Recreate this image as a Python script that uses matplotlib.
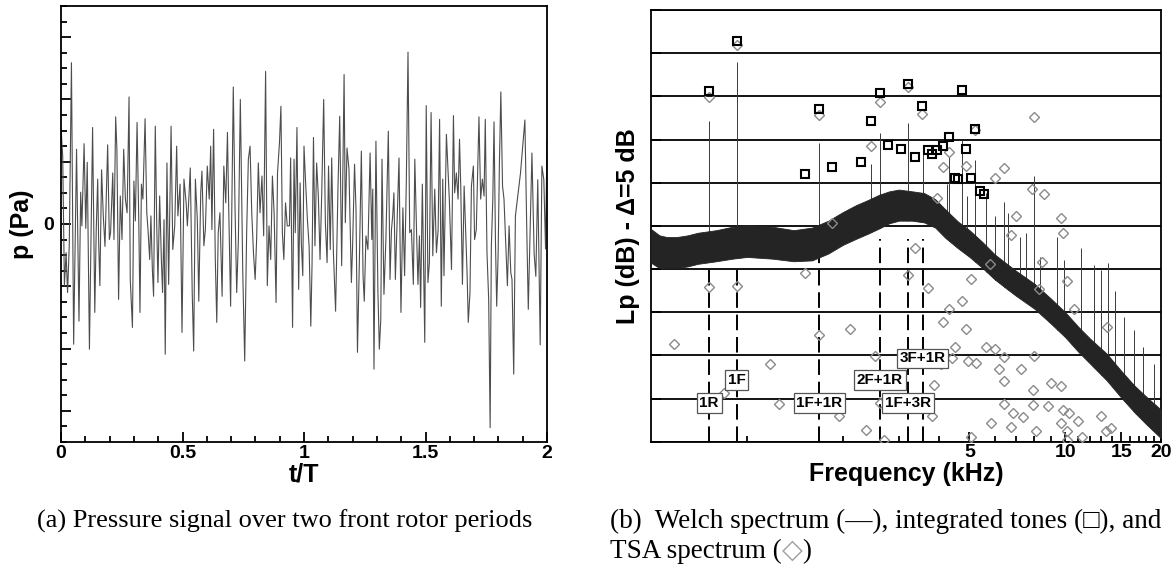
import numpy as np
import matplotlib
matplotlib.use('Agg')
import matplotlib.pyplot as plt
from matplotlib.ticker import FixedLocator, FixedFormatter, NullFormatter, MultipleLocator

# (a) pressure signal as (t/T, p) turning points
# p is in units of one major y tick
signal_pts = [
    (0.000, 1.55), (0.007, 1.09), (0.014, -0.99), (0.021, -0.46), (0.027, -1.10), (0.034, -0.35),
    (0.043, 2.59), (0.052, -1.93), (0.064, 1.20), (0.074, -1.56), (0.081, 0.51), (0.086, -0.03),
    (0.095, 1.29), (0.102, -0.07), (0.108, 0.99), (0.117, -2.01), (0.130, 1.55), (0.139, -1.42),
    (0.145, -0.09), (0.151, 0.72), (0.155, -0.30), (0.160, -0.99), (0.167, 0.87), (0.174, 0.13),
    (0.181, -0.36), (0.192, 1.27), (0.199, -0.25), (0.204, -0.14), (0.213, 0.82), (0.218, -0.25),
    (0.225, 1.72), (0.230, 1.20), (0.237, -1.21), (0.244, 0.45), (0.251, -0.25), (0.258, 1.20),
    (0.265, 0.40), (0.272, 0.18), (0.280, 2.04), (0.285, -0.89), (0.294, -1.66), (0.300, 0.69),
    (0.306, 0.05), (0.313, 1.63), (0.320, 0.07), (0.325, -1.42), (0.331, 0.64), (0.337, 0.40),
    (0.346, 1.69), (0.353, 0.18), (0.358, -0.09), (0.365, -0.57), (0.370, 0.13), (0.376, -0.73),
    (0.381, -1.16), (0.388, 1.57), (0.394, -0.03), (0.399, -0.94), (0.406, 0.45), (0.413, -0.57),
    (0.418, -1.10), (0.424, 0.07), (0.429, -2.09), (0.436, 0.98), (0.443, -0.97), (0.453, 1.57),
    (0.460, -0.41), (0.468, -0.03), (0.476, 1.25), (0.481, 0.13), (0.490, 0.64), (0.498, -1.74),
    (0.506, 0.72), (0.515, 0.34), (0.520, -0.03), (0.526, 0.40), (0.532, 0.90), (0.540, -1.10),
    (0.546, -2.04), (0.553, 0.72), (0.561, 0.07), (0.567, -1.24), (0.575, 0.50), (0.580, 0.85),
    (0.588, -0.35), (0.594, -0.09), (0.602, 0.93), (0.610, 0.40), (0.616, 1.25), (0.621, -0.09),
    (0.628, 1.52), (0.635, -0.57), (0.641, -1.58), (0.647, -0.14), (0.654, 0.18), (0.663, -1.16),
    (0.670, 0.93), (0.678, 0.34), (0.685, 1.47), (0.690, 0.29), (0.698, -1.32), (0.709, 2.20),
    (0.716, 0.29), (0.723, -1.10), (0.730, -0.25), (0.738, 2.00), (0.748, -0.78), (0.756, -2.20),
    (0.764, -0.14), (0.771, 1.04), (0.778, 1.25), (0.785, 0.18), (0.792, -0.46), (0.799, -0.89),
    (0.805, -0.25), (0.812, 0.98), (0.819, 0.18), (0.827, 0.77), (0.834, -0.19), (0.842, 2.45),
    (0.849, -0.99), (0.856, -0.03), (0.863, -0.57), (0.870, 0.77), (0.877, 0.18), (0.885, -1.26),
    (0.891, 0.82), (0.899, 1.30), (0.905, 1.89), (0.911, -0.14), (0.917, -0.57), (0.924, 0.34),
    (0.931, -0.03), (0.940, -0.03), (0.945, 1.06), (0.953, -1.66), (0.959, 1.04), (0.964, -0.14),
    (0.971, 1.55), (0.978, -1.05), (0.984, 0.66), (0.989, -0.30), (0.995, -0.83), (1.000, 1.25),
    (1.006, 0.72), (1.014, 0.07), (1.021, -0.35), (1.028, -1.64), (1.033, -0.67), (1.039, 1.39),
    (1.045, -0.35), (1.052, 0.98), (1.059, 0.45), (1.066, -0.57), (1.073, 0.50), (1.081, 2.00),
    (1.088, 0.02), (1.095, -0.62), (1.101, 0.93), (1.108, -0.41), (1.114, 1.06), (1.121, -0.46),
    (1.130, -1.40), (1.140, 0.61), (1.147, 1.73), (1.155, -0.67), (1.165, 2.40), (1.170, 0.02),
    (1.177, 1.22), (1.185, 0.88), (1.195, -0.94), (1.200, -0.35), (1.208, 0.96), (1.214, 0.24),
    (1.220, -2.06), (1.228, -0.57), (1.236, 1.17), (1.243, -0.83), (1.248, -1.24), (1.255, -0.19),
    (1.263, -0.41), (1.272, 1.14), (1.279, -0.25), (1.283, 0.56), (1.288, -2.33), (1.296, 1.33),
    (1.304, -1.05), (1.310, -2.01), (1.316, -1.53), (1.321, 1.04), (1.329, -1.13), (1.337, -0.25),
    (1.347, 1.49), (1.354, -0.89), (1.360, -0.09), (1.365, 0.13), (1.370, 0.50), (1.376, -0.89),
    (1.384, 0.16), (1.391, 1.06), (1.399, -1.42), (1.407, 0.26), (1.414, -0.83), (1.421, 0.66),
    (1.428, 2.76), (1.435, -0.14), (1.442, -0.09), (1.450, -0.97), (1.456, 1.04), (1.464, -0.25),
    (1.469, -0.97), (1.475, -0.19), (1.480, -1.34), (1.487, 0.64), (1.497, -1.90), (1.503, 1.90),
    (1.510, -0.94), (1.516, -0.62), (1.523, 1.79), (1.530, -0.51), (1.538, 0.56), (1.545, -0.46),
    (1.552, -0.09), (1.558, 1.68), (1.565, -1.32), (1.571, 0.72), (1.576, -0.83), (1.586, 1.44),
    (1.593, 0.82), (1.598, 0.40), (1.607, -0.73), (1.615, 1.74), (1.620, 0.50), (1.627, 0.82),
    (1.634, 0.40), (1.640, 1.36), (1.645, 0.61), (1.652, -0.97), (1.659, 0.61), (1.665, -0.09),
    (1.671, -0.78), (1.676, -1.58), (1.683, -1.10), (1.689, 0.61), (1.697, 0.93), (1.702, -0.25),
    (1.709, -0.09), (1.713, 0.56), (1.720, 1.72), (1.727, 0.40), (1.734, 0.72), (1.741, 0.45),
    (1.746, 1.68), (1.753, -0.46), (1.760, -1.21), (1.766, -3.27), (1.771, -0.35), (1.777, 0.40),
    (1.782, 1.64), (1.788, -0.30), (1.793, -1.32), (1.799, -0.46), (1.804, 0.93), (1.810, 2.12),
    (1.817, 0.61), (1.823, 0.40), (1.830, -0.30), (1.837, -0.99), (1.844, -0.03), (1.851, -0.78),
    (1.856, -0.89), (1.863, -2.41), (1.870, 0.13), (1.891, 0.82), (1.909, 1.67), (1.917, -0.14),
    (1.923, -1.37), (1.932, 0.18), (1.938, 1.14), (1.947, -0.47), (1.954, -0.84), (1.962, 0.71),
    (1.972, -1.94), (1.979, 0.93), (1.987, 0.71), (1.994, -0.40), (2.000, 1.35),
]
t_ticks = [0, 0.5, 1, 1.5, 2]
t_labels = ['0', '0.5', '1', '1.5', '2']

# (b) spectrum, kHz / dB (bottom of plot = 0)
welch_f = [0.5, 0.53, 0.56, 0.6, 0.65, 0.7, 0.8, 0.9, 1.0, 1.2, 1.4, 1.6, 1.8, 2.0, 2.2, 2.4,
           2.6, 2.8, 3.0, 3.3, 3.6, 3.9, 4.2, 4.6, 5.0, 5.5, 6.0, 6.5, 7.0, 8.0, 9.0, 10.0,
           11.0, 12.0, 13.5, 15.0, 16.5, 18.0, 20.0]
welch_lo = [20.7, 20.1, 20.1, 20.1, 20.3, 20.6, 20.9, 21.2, 21.4, 21.2, 20.9, 21.0, 21.8, 22.8,
            23.5, 24.1, 24.7, 25.3, 25.6, 25.6, 25.4, 24.8, 23.6, 22.4, 21.4, 20.1, 18.8, 17.8,
            16.9, 15.4, 13.7, 12.1, 10.4, 9.0, 7.1, 5.1, 3.4, 2.0, 0.4]
welch_hi = [24.6, 23.9, 23.7, 23.7, 23.9, 24.2, 24.5, 24.9, 25.1, 24.9, 24.5, 24.8, 25.6, 26.6,
            27.4, 28.0, 28.6, 29.0, 29.2, 29.0, 28.8, 28.1, 26.9, 25.5, 24.5, 23.1, 21.7, 20.7,
            19.8, 18.3, 16.6, 15.0, 13.3, 11.9, 10.2, 8.2, 6.5, 5.2, 3.7]
spike_f = [0.76, 0.926, 1.686, 2.446, 2.616, 3.20, 3.56, 4.26, 4.31, 4.73, 4.92, 5.22, 5.65,
           6.01, 6.42, 6.6, 7.19, 7.5, 7.95, 8.3, 9.45, 9.9, 11.2, 12.3, 13.0, 13.6, 14.3,
           15.3, 16.5, 17.5, 19.0]
spike_top = [37.2, 44.0, 34.6, 32.2, 35.8, 36.9, 33.3, 29.9, 33.0, 34.9, 28.4, 32.6, 28.8,
             26.1, 27.8, 26.5, 23.7, 24.2, 30.8, 21.4, 23.7, 21.0, 22.4, 20.5, 19.9, 20.7, 17.5,
             14.5, 12.9, 11.0, 9.0]

tone_f = [0.760, 0.926, 1.686, 1.520, 1.85, 2.277, 2.446, 2.616, 2.78, 3.035, 3.20, 3.376, 3.54,
          3.707, 3.80, 3.96, 4.14, 4.31, 4.49, 4.61, 4.73, 4.89, 5.06, 5.22, 5.41, 5.55]
tone_lp = [40.65, 46.44, 38.5, 30.97, 31.85, 32.36, 37.14, 40.42, 34.4, 33.94, 41.43, 33.0, 38.88,
           33.78, 33.32, 33.78, 34.25, 35.26, 30.58, 30.43, 40.73, 33.94, 30.58, 36.18, 29.07, 28.69]

tsa_pts = [
    (0.760, 39.96), (0.926, 46.0), (1.686, 37.84), (2.616, 39.38), (2.446, 34.28), (3.20, 41.05),
    (3.54, 37.95), (4.31, 33.5), (4.14, 31.85), (4.89, 31.93), (5.22, 36.1), (7.95, 37.57),
    (6.4, 31.67), (6.0, 30.58), (3.96, 28.19), (7.85, 29.27), (8.6, 28.69), (7.0, 26.14),
    (9.67, 25.87), (9.85, 24.14), (6.75, 23.9), (1.85, 25.3), (3.376, 22.4),
    (0.591, 11.28), (0.760, 17.88), (0.926, 18.03), (0.847, 5.68), (1.181, 9.0), (1.262, 4.33),
    (1.52, 19.57), (1.686, 12.36), (1.94, 2.98), (2.10, 13.09), (2.36, 1.36), (2.52, 9.96),
    (2.61, 4.45), (2.69, 0.2), (3.20, 19.31), (3.71, 17.77), (3.80, 2.98), (3.88, 6.57),
    (4.07, 9.0), (4.14, 13.9), (4.31, 15.37), (4.40, 9.66), (4.49, 11.0), (4.73, 16.33),
    (4.89, 13.05), (4.96, 9.35), (5.06, 18.81), (5.23, 9.15), (5.63, 11.0), (5.81, 20.55),
    (6.01, 10.74), (6.17, 8.42), (6.4, 9.77), (6.43, 7.03), (7.27, 8.42), (7.91, 5.99),
    (7.95, 9.96), (8.27, 17.65), (8.43, 20.78), (9.03, 6.83), (9.67, 6.49), (10.1, 18.65),
    (10.65, 15.37), (13.5, 13.25), (5.06, 0.5), (5.86, 2.13), (6.43, 4.37), (6.75, 1.74),
    (6.85, 3.36), (7.34, 2.83), (7.91, 4.25), (8.12, 1.24), (8.80, 4.17), (9.67, 2.13),
    (9.83, 3.67), (10.1, 1.24), (10.31, 3.36), (10.15, 0.2), (10.94, 2.4), (11.32, 0.5),
    (13.0, 2.98), (13.46, 1.24), (13.96, 1.62),
]

harm_names = ['1R', '1F', '1F+1R', '2F+1R', '1F+3R', '3F+1R']
harm_f = [0.760, 0.926, 1.686, 2.616, 3.20, 3.56]
harm_label_y = [4.5, 7.15, 4.5, 7.15, 4.5, 9.66]
harm_dash_top = [20.5, 20.5, 21.5, 23.5, 23.5, 23.5]
f_ticks = [5, 10, 15, 20]
f_minor = [1, 2, 3, 4, 6, 7, 8, 9, 11, 12, 13, 14, 16, 17, 18, 19]

plt.rcParams['font.family'] = ['Liberation Sans', 'DejaVu Sans']
plt.rcParams['font.weight'] = 'bold'

W, H = 1173, 570
fig = plt.figure(figsize=(W / 100, H / 100), dpi=100)

# ---- (a) time signal
ax1 = fig.add_axes([61 / W, 128 / H, 486 / W, 436 / H])
ts = np.array(signal_pts)
ax1.plot(ts[:, 0], ts[:, 1], color='#4d4d4d', lw=0.8)
ax1.set_xlim(0, 2)
ax1.set_ylim(-3.5, 3.5)
ax1.set_xticks(t_ticks)
ax1.set_xticklabels(t_labels)
ax1.xaxis.set_minor_locator(MultipleLocator(0.1))
ax1.set_yticks(range(-3, 4))
ax1.set_yticklabels(['0' if v == 0 else '' for v in range(-3, 4)])
ax1.yaxis.set_minor_locator(MultipleLocator(0.25))
ax1.tick_params(which='both', direction='in', top=False, right=False, width=1.3, labelsize=14)
ax1.tick_params(which='major', length=7)
ax1.tick_params(which='minor', length=4)
ax1.tick_params(axis='x', pad=2)
ax1.tick_params(axis='y', pad=5)
for s in ax1.spines.values():
    s.set_linewidth(1.3)

fig.text(22 / W, 1 - 224 / H, 'p (Pa)', rotation=90, ha='center', va='center', fontsize=18)
fig.text(304 / W, 1 - 481 / H, 't/T', ha='center', va='baseline', fontsize=18)

# ---- (b) spectrum
ax2 = fig.add_axes([651.4 / W, 128.3 / H, 509.6 / W, 431.7 / H])
ax2.set_xscale('log')
ax2.set_xlim(0.5, 20)
ax2.set_ylim(0, 50)
ax2.set_axisbelow(True)
ax2.set_yticks(np.arange(0, 51, 5))
ax2.yaxis.grid(True, color='k', lw=1.3)
ax2.yaxis.set_major_formatter(NullFormatter())

base = np.interp(spike_f, welch_f, welch_lo)
ax2.vlines(spike_f, base, spike_top, colors='#3a3a3a', lw=0.7, zorder=2)
ax2.vlines(harm_f, 0, harm_dash_top, colors='k', lw=1.4, linestyles=(0, (8, 3.5)), zorder=2)
ax2.fill_between(welch_f, welch_lo, welch_hi, color='#242424', lw=0.6, zorder=3)

tsa = np.array(tsa_pts)
ax2.plot(tsa[:, 0], tsa[:, 1], 'D', ms=4.8, mfc='none', mec='#8a8a8a', mew=1.0, ls='none', zorder=4)
ax2.plot(tone_f, tone_lp, 's', ms=5.5, mfc='none', mec='k', mew=1.5, ls='none', zorder=4)

for name, f, y in zip(harm_names, harm_f, harm_label_y):
    ax2.text(f, y, name, ha='center', va='center', fontsize=11, zorder=6,
             bbox=dict(boxstyle='square,pad=0.18', fc='white', ec='#555555', lw=0.9))

ax2.xaxis.set_major_locator(FixedLocator(f_ticks))
ax2.xaxis.set_major_formatter(FixedFormatter([str(v) for v in f_ticks]))
ax2.xaxis.set_minor_locator(FixedLocator(f_minor))
ax2.xaxis.set_minor_formatter(NullFormatter())
ax2.tick_params(which='both', direction='in', top=False, right=False, width=1.3, labelsize=14)
ax2.tick_params(which='major', length=7)
ax2.tick_params(which='minor', length=4)
ax2.tick_params(axis='x', pad=2)
for s in ax2.spines.values():
    s.set_linewidth(1.3)

fig.text(627.5 / W, 1 - 226 / H, 'Lp (dB) - \u0394=5 dB', rotation=90, ha='center', va='center',
         fontsize=18)
fig.text(906 / W, 1 - 481 / H, 'Frequency (kHz)', ha='center', va='baseline', fontsize=18)

# ---- captions
serif = ['Liberation Serif', 'DejaVu Serif', 'DejaVu Sans']
cap = dict(weight='normal', family=serif, va='baseline')
fig.text(37 / W, 1 - 528 / H, '(a) Pressure signal over two front rotor periods', fontsize=19, **cap)
fig.text(610 / W, 1 - 528 / H, '(b)  Welch spectrum (\u2014), integrated tones (\u25a1), and',
         fontsize=19.5, **cap)

renderer = fig.canvas.get_renderer()
x = 610 / W
for piece, col in [('TSA spectrum (', 'k'), ('\u25c7', '#a0a0a0'), (')', 'k')]:
    t = fig.text(x, 1 - 558 / H, piece, color=col, fontsize=19.5, **cap)
    x = t.get_window_extent(renderer=renderer).x1 / fig.bbox.width

fig.savefig('out.png', dpi=100)
